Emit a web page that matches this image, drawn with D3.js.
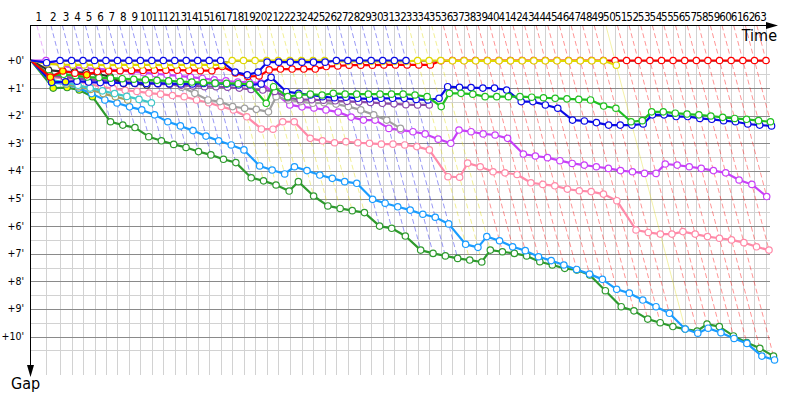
<!DOCTYPE html>
<html>
<head>
<meta charset="utf-8">
<script src="https://cdn.jsdelivr.net/npm/d3@7"></script>
<style>
  body { margin: 0; background: #fff; }
  svg { display: block; font-family: "DejaVu Sans Condensed", "DejaVu Sans", sans-serif; }
</style>
</head>
<body>
<div id="chart"></div>
<script>
// leader lap times (seconds), laps 1..63
const leaderLapTimes = [125, 117,
  96, 95, 96, 95, 96, 95, 96, 95, 96, 95, 96, 95, 96, 95, 96, 95, 96,
  97, 96, 97, 97, 96, 97, 97, 96, 97, 97, 96, 97, 97, 97, 96, 97, 97, 96, 97, 97, 97, 96,
  97, 97, 96, 97, 97, 97, 96, 97, 97, 96, 97, 97, 97, 96, 97, 97, 96, 97, 97, 97, 97, 96];

const gapTicks = [0, 1, 2, 3, 4, 5, 6, 7, 8, 9, 10];

// gap to leader (minutes) at the end of each lap, lap 0 first
const redGaps = [0, 0.6, 0.38, 0.46, 0.52, 0.4, 0.38, 0.37, 0.36, 0.36, 0.35, 0.35, 0.35, 0.36, 0.37, 0.37,
  0.22, 0.45, 0.58, 0.56, 0.34, 0.31, 0.31, 0.31, 0.31, 0.22, 0.2, 0.17, 0.17, 0.17, 0.16, 0.16, 0.16, 0.16, 0.16,
  0.01, 0, 0, 0, 0, 0, 0, 0, 0, 0, 0, 0, 0, 0, 0, 0, 0, 0, 0, 0, 0, 0, 0, 0, 0, 0, 0, 0, 0];
const yellowGaps = [0, 0.12, 0.15, 0.16, 0.16, 0.16, 0.17, 0.16, 0.16, 0.16, 0.16, 0.17, 0.16, 0.16, 0.16, 0.16, 0.16,
  0, 0, 0, 0, 0, 0, 0, 0, 0, 0.03, 0.03, 0.03, 0.03, 0.03, 0.03, 0.03, 0, 0, 0,
  0.01, 0.01, 0.01, 0.01, 0.01, 0.01, 0.01, 0.01, 0.01, 0.01, 0.01, 0.01, 0.01, 0.01, 0.17];
const blueAGaps = [0, 0.08, 0, 0, 0, 0, 0, 0, 0, 0, 0, 0, 0, 0, 0, 0, 0,
  0.42, 0.52, 0.42, 0.06, 0.06, 0.06, 0.06, 0.06, 0.06, 0, 0, 0, 0, 0, 0, 0];
const violetGaps = [0, 0, 0.2, 0.25, 0.28, 0.3, 0.33, 0.36, 0.4, 0.44, 0.48, 0.52, 0.56, 0.6, 0.65, 0.7, 0.74,
  0.78, 0.78, 0.82, 1.2, 1.61, 1.68, 1.72, 1.79, 1.87, 2.05, 2.16, 2.16, 2.46, 2.52, 2.58, 2.66, 2.85, 3.0,
  2.52, 2.58, 2.66, 2.7, 2.82, 3.39, 3.46, 3.52, 3.63, 3.73, 3.79, 3.85, 3.91, 3.99, 4.03, 4.09, 4.09,
  3.75, 3.79, 3.85, 3.91, 3.99, 4.07, 4.33, 4.49, 4.93];
const blueBGaps = [0, 0.79, 0.77, 0.75, 0.78, 0.8, 0.8, 0.82, 0.82, 0.83, 0.83, 0.84, 0.85, 0.85, 0.83, 0.83,
  0.85, 0.89, 0.89, 0.85, 0.61, 1.13, 1.19, 1.25, 1.31, 1.35, 1.33, 1.37, 1.39, 1.37, 1.37, 1.37, 1.41, 1.43,
  1.37, 0.95, 0.97, 0.98, 1.0, 1.0, 1.07, 1.49, 1.49, 1.61, 1.73, 2.16, 2.19, 2.25, 2.34, 2.34, 2.34, 2.3,
  1.97, 1.97, 2.03, 2.03, 2.1, 2.13, 2.18, 2.22, 2.3, 2.34, 2.37];
const greenGaps = [0, 0.55, 0.5, 0.55, 0.6, 0.62, 0.64, 0.66, 0.68, 0.7, 0.72, 0.74, 0.76, 0.78, 0.8, 0.82,
  0.83, 0.84, 0.86, 1.55, 0.95, 1.31, 1.25, 1.22, 1.25, 1.19, 1.22, 1.22, 1.22, 1.22, 1.22, 1.22, 1.25, 1.31,
  1.67, 1.19, 1.19, 1.22, 1.31, 1.31, 1.31, 1.31, 1.33, 1.35, 1.37, 1.39, 1.41, 1.43, 1.65, 1.73, 2.22, 2.18,
  1.86, 1.86, 1.91, 1.94, 1.97, 2.01, 2.06, 2.1, 2.13, 2.18, 2.22];
const pinkGaps = [0, 0.6, 0.65, 0.75, 0.85, 0.95, 1.02, 1.08, 1.12, 1.18, 1.22, 1.27, 1.31, 1.43, 1.53, 1.67,
  1.79, 2.04, 2.48, 2.49, 2.22, 2.22, 2.82, 2.91, 2.98, 2.94, 2.98, 3.0, 3.03, 3.03, 3.06, 3.12, 3.24, 4.21,
  4.23, 3.72, 3.85, 4.03, 4.07, 4.13, 4.43, 4.49, 4.54, 4.66, 4.72, 4.75, 4.84, 5.08, 6.14, 6.23, 6.29, 6.29,
  6.2, 6.29, 6.38, 6.44, 6.5, 6.6, 6.75, 6.87];
const lightBlueGaps = [0, 0.8, 0.85, 1.0, 1.2, 1.43, 1.54, 1.68, 1.79, 1.97, 2.22, 2.37, 2.54, 2.74, 2.91, 3.06,
  3.24, 3.82, 3.97, 4.11, 3.85, 3.99, 4.15, 4.27, 4.39, 4.45, 5.03, 5.17, 5.3, 5.42, 5.57, 5.68, 5.92, 6.66,
  6.77, 6.38, 6.53, 6.75, 6.89, 7.11, 7.25, 7.41, 7.57, 7.74, 7.93, 8.29, 8.43, 8.68, 8.92, 9.16, 9.73, 9.88,
  9.7, 9.86, 10.07, 10.25, 10.71, 10.85];
const darkGreenGaps = [0, 1.0, 0.98, 1.07, 1.31, 2.22, 2.34, 2.43, 2.76, 2.91, 3.04, 3.15, 3.3, 3.42, 3.58, 3.7,
  4.25, 4.36, 4.51, 4.73, 4.39, 4.91, 5.27, 5.36, 5.44, 5.51, 6.0, 6.08, 6.36, 6.87, 6.99, 7.08, 7.17, 7.23,
  7.3, 6.87, 6.93, 6.99, 7.08, 7.29, 7.41, 7.53, 7.59, 7.77, 8.34, 8.92, 9.07, 9.37, 9.5, 9.64, 9.73, 9.8,
  9.55, 9.64, 9.98, 10.22, 10.43, 10.71];
const grayGaps = [0, 0.5, 0.55, 0.6, 0.62, 0.65, 0.68, 0.7, 0.72, 0.74, 0.77, 0.83, 0.97, 1.19, 1.43, 1.49,
  1.67, 1.73, 1.77, 1.86, 1.31, 1.43, 1.49, 1.55, 1.53, 1.58, 1.67, 1.79, 1.97, 2.16, 2.46];
const darkPurpleGaps = [0, 0.55, 0.6, 0.65, 0.7, 0.72, 0.75, 0.78, 0.8, 0.83, 0.85, 0.87, 0.9, 0.92, 0.95, 0.95,
  0.97, 1.0, 1.05, 1.07, 1.12, 1.35, 1.42, 1.42, 1.44, 1.46, 1.48, 1.5, 1.52, 1.55, 1.57, 1.6, 1.61, 1.61];
const blackGaps = [0, 0.35, 0.4, 0.42, 0.45, 0.49, 0.59, 0.83, 0.83, 0.89];
const tealGaps = [0, 0.7, 0.8, 0.9, 1.0, 1.1, 1.2, 1.3, 1.41, 1.53];
const oliveGaps = [0, 0.7, 0.85, 0.95, 1.05, 1.2, 1.31, 1.43];

// laps drawn with a yellow-filled marker
const redYellowLaps = [1, 2, 4];
const darkGreenYellowLaps = [1, 2, 3, 4];
const blueBYellowLaps = [1, 2];

// bottom to top drawing order
const cars = [
  {key: "darkgreen", color: "#2e9a2e", gaps: darkGreenGaps, marked: darkGreenYellowLaps},
  {key: "lightblue", color: "#1a9cff", gaps: lightBlueGaps},
  {key: "pink", color: "#ff8aa8", gaps: pinkGaps},
  {key: "violet", color: "#c840f8", gaps: violetGaps},
  {key: "gray", color: "#a0a0a0", gaps: grayGaps},
  {key: "darkpurple", color: "#8a48a8", gaps: darkPurpleGaps},
  {key: "olive", color: "#a8a060", gaps: oliveGaps},
  {key: "teal", color: "#40c8c8", gaps: tealGaps},
  {key: "black", color: "#303030", gaps: blackGaps},
  {key: "blueB", color: "#0a0ae6", gaps: blueBGaps, marked: blueBYellowLaps},
  {key: "green", color: "#20c020", gaps: greenGaps},
  {key: "red", color: "#ff0000", gaps: redGaps, marked: redYellowLaps},
  {key: "yellow", color: "#e0d800", gaps: yellowGaps},
  {key: "blueA", color: "#0a0ae6", gaps: blueAGaps}
];
// the lap line of the yellow car's last lap is drawn solid in its colour
const retiredLine = {key: "yellow", lap: 50};

const width = 800, height = 400;
const axisTop = 25.5, gridBottom = 375;

const svg = d3.select("#chart").append("svg")
  .attr("width", width)
  .attr("height", height);

// cumulative leader time at each lap end
const lapEnd = [0];
leaderLapTimes.forEach((t, i) => lapEnd.push(lapEnd[i] + t));
const nLaps = leaderLapTimes.length;

const x = d3.scaleLinear().domain([0, lapEnd[nLaps]]).range([31, 766]);
const y = d3.scaleLinear().domain([0, 10]).range([60.5, 336.5]);
const px = (lap, g) => x(lapEnd[lap] + g * 60);
const gapTop = y.invert(axisTop);
const gridRight = x(lapEnd[nLaps]) + 4;

//-------------------------------------------------------------------
// grid
const grid = svg.append("g");
grid.selectAll(".vgrid")
  .data(d3.range(1, nLaps + 1))
  .enter().append("line")
    .attr("x1", d => Math.round(x(lapEnd[d])) + 0.5)
    .attr("x2", d => Math.round(x(lapEnd[d])) + 0.5)
    .attr("y1", axisTop)
    .attr("y2", gridBottom)
    .attr("stroke", "#d2d2d2");

grid.selectAll(".hminor")
  .data(gapTicks.map(d => d + 0.5))
  .enter().append("line")
    .attr("x1", 30).attr("x2", gridRight)
    .attr("y1", d => Math.round(y(d)) + 0.5)
    .attr("y2", d => Math.round(y(d)) + 0.5)
    .attr("stroke", "#d2d2d2");

grid.selectAll(".hmajor")
  .data(gapTicks)
  .enter().append("line")
    .attr("x1", 30).attr("x2", gridRight)
    .attr("y1", d => Math.round(y(d)) + 0.5)
    .attr("y2", d => Math.round(y(d)) + 0.5)
    .attr("stroke", "#8a8a8a");

//-------------------------------------------------------------------
// lap lines: one per lap, in the colour of the car leading that lap
const retCar = cars.find(c => c.key === retiredLine.key);
const lapLines = d3.range(1, nLaps + 1).map(n => {
  const present = cars.filter(c => c.gaps[n] !== undefined);
  const leader = present.reduce((a, b) => (b.gaps[n] < a.gaps[n] ? b : a));
  const gMax = d3.max(present, c => c.gaps[n]);
  const solid = n === retiredLine.lap;
  return {lap: n, color: solid ? retCar.color : leader.color, gMax: gMax, solid: solid};
});

svg.append("g").selectAll("line")
  .data(lapLines)
  .enter().append("line")
    .attr("x1", d => px(d.lap, gapTop))
    .attr("y1", y(gapTop))
    .attr("x2", d => px(d.lap, d.gMax))
    .attr("y2", d => y(d.gMax))
    .attr("stroke", d => d.color)
    .attr("stroke-opacity", d => d.solid ? 0.35 : 0.42)
    .attr("stroke-dasharray", d => d.solid ? null : "5,3");

//-------------------------------------------------------------------
// axes
svg.append("line")
  .attr("x1", 30).attr("x2", 768)
  .attr("y1", axisTop).attr("y2", axisTop)
  .attr("stroke", "#000");
svg.append("path")
  .attr("d", "M766,22 L778,25.5 L766,29 Z")
  .attr("fill", "#000");
svg.append("line")
  .attr("x1", 30.5).attr("x2", 30.5)
  .attr("y1", axisTop).attr("y2", 366)
  .attr("stroke", "#000");
svg.append("path")
  .attr("d", "M27,365 L30.5,377 L34,365 Z")
  .attr("fill", "#000");

svg.append("g").selectAll("text")
  .data(d3.range(1, nLaps + 1))
  .enter().append("text")
    .attr("x", d => (x(lapEnd[d - 1]) + x(lapEnd[d])) / 2)
    .attr("y", 21)
    .attr("text-anchor", "middle")
    .attr("font-size", 11.5)
    .attr("letter-spacing", -0.4)
    .text(d => d);

svg.append("g").selectAll("text")
  .data(gapTicks)
  .enter().append("text")
    .attr("x", 24)
    .attr("y", d => y(d) + 3.5)
    .attr("text-anchor", "end")
    .attr("font-size", 10.5)
    .text(d => "+" + d + "'");

svg.append("text")
  .attr("x", 777).attr("y", 41)
  .attr("text-anchor", "end")
  .attr("font-size", 16)
  .text("Time");
svg.append("text")
  .attr("x", 11).attr("y", 389)
  .attr("font-size", 16)
  .text("Gap");

//-------------------------------------------------------------------
// car traces
const line = d3.line()
  .x((g, i) => px(i, g))
  .y(g => y(g));

cars.forEach(c => {
  const g = svg.append("g");
  g.append("path")
    .attr("d", line(c.gaps))
    .attr("fill", "none")
    .attr("stroke", c.color)
    .attr("stroke-width", 2.2)
    .attr("stroke-linejoin", "round");
  g.selectAll("circle")
    .data(c.gaps.map((v, i) => ({lap: i, gap: v})).filter(d => d.lap > 0))
    .enter().append("circle")
      .attr("cx", d => px(d.lap, d.gap))
      .attr("cy", d => y(d.gap))
      .attr("r", 3.2)
      .attr("fill", d => (c.marked && c.marked.includes(d.lap)) ? "#ffff00" : "#fff")
      .attr("stroke", c.color)
      .attr("stroke-width", 1.2);
});
</script>
</body>
</html>
